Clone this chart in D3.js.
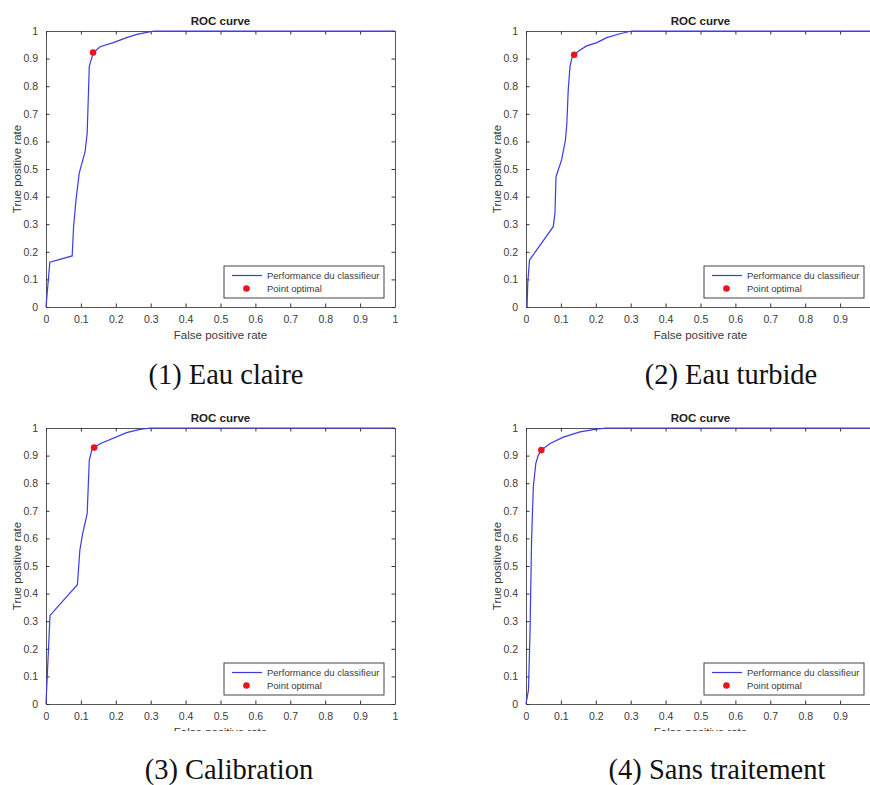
<!DOCTYPE html>
<html>
<head>
<meta charset="utf-8">
<script src="https://cdn.jsdelivr.net/npm/d3@7"></script>
<style>
  html, body { margin: 0; padding: 0; background: #fff; }
  svg { display: block; }
</style>
</head>
<body>
<svg id="chart" width="870" height="785"></svg>
<script>
// ---------------- DATA ----------------
const tickValues = [0, 0.1, 0.2, 0.3, 0.4, 0.5, 0.6, 0.7, 0.8, 0.9, 1];
const tickLabels = ["0", "0.1", "0.2", "0.3", "0.4", "0.5", "0.6", "0.7", "0.8", "0.9", "1"];

const chartTitle = "ROC curve";
const xLabel = "False positive rate";
const yLabel = "True positive rate";
const legendLabels = ["Performance du classifieur", "Point optimal"];
const captions = ["(1) Eau claire", "(2) Eau turbide", "(3) Calibration", "(4) Sans traitement"];

// (1) Eau claire
const fprClaire = [0, 0.011, 0.075, 0.079, 0.086, 0.095, 0.112, 0.118, 0.121, 0.124, 0.128, 0.136, 0.155, 0.193, 0.231, 0.260, 0.289, 0.310, 1];
const tprClaire = [0, 0.162, 0.185, 0.290, 0.388, 0.484, 0.563, 0.630, 0.750, 0.870, 0.890, 0.922, 0.943, 0.958, 0.976, 0.988, 0.995, 1, 1];
const optClaire = [0.135, 0.922];

// (2) Eau turbide
const fprTurbide = [0, 0.003, 0.005, 0.010, 0.078, 0.083, 0.086, 0.102, 0.113, 0.117, 0.121, 0.126, 0.131, 0.138, 0.155, 0.174, 0.203, 0.231, 0.269, 0.303, 1];
const tprTurbide = [0, 0, 0.086, 0.170, 0.291, 0.340, 0.472, 0.533, 0.605, 0.665, 0.786, 0.871, 0.900, 0.915, 0.931, 0.946, 0.958, 0.976, 0.990, 1, 1];
const optTurbide = [0.138, 0.914];

// (3) Calibration
const fprCalib = [0, 0.007, 0.0115, 0.090, 0.097, 0.105, 0.118, 0.124, 0.131, 0.138, 0.155, 0.231, 0.269, 0.300, 1];
const tprCalib = [0, 0.195, 0.321, 0.432, 0.557, 0.617, 0.690, 0.883, 0.919, 0.929, 0.943, 0.983, 0.995, 1, 1];
const optCalib = [0.138, 0.929];

// (4) Sans traitement
const fprSans = [0, 0.007, 0.0115, 0.013, 0.016, 0.021, 0.028, 0.035, 0.044, 0.069, 0.107, 0.155, 0.198, 0.230, 1];
const tprSans = [0, 0.050, 0.256, 0.376, 0.594, 0.787, 0.871, 0.901, 0.920, 0.944, 0.967, 0.986, 0.995, 1, 1];
const optSans = [0.044, 0.920];

// ---------------- DRAWING ----------------
const panels = [
  { fpr: fprClaire, tpr: tprClaire, opt: optClaire, caption: captions[0], left: 46, top: 31, clip: [0, 0, 440, 346], capX: 226, capY: 384 },
  { fpr: fprTurbide, tpr: tprTurbide, opt: optTurbide, caption: captions[1], left: 526, top: 31, clip: [440, 0, 440, 346], capX: 731, capY: 384 },
  { fpr: fprCalib, tpr: tprCalib, opt: optCalib, caption: captions[2], left: 46, top: 428, clip: [0, 395, 440, 336], capX: 229, capY: 779 },
  { fpr: fprSans, tpr: tprSans, opt: optSans, caption: captions[3], left: 526, top: 428, clip: [440, 395, 440, 336], capX: 717, capY: 779 }
];

const W = 349, H = 276;
const pageW = 870;
const svg = d3.select("#chart");
const sans = "'Liberation Sans', Arial, sans-serif";
const axisColor = "#555";
const textColor = "#3a3a3a";

const defs = svg.append("defs");

panels.forEach((p, i) => {
  defs.append("clipPath").attr("id", "clip" + i)
    .append("rect").attr("x", p.clip[0]).attr("y", p.clip[1]).attr("width", p.clip[2]).attr("height", p.clip[3]);

  const outer = svg.append("g").attr("clip-path", `url(#clip${i})`);
  const g = outer.append("g").attr("transform", `translate(${p.left},${p.top})`);

  const x = d3.scaleLinear().domain([0, 1]).range([0, W]);
  const y = d3.scaleLinear().domain([0, 1]).range([H, 0]);
  const fmt = d => tickLabels[tickValues.indexOf(d)];
  // ticks whose label would fall outside the page (panel cropped on the right) are not shown
  const xTicks = tickValues.filter(v => p.left + x(v) + 6 < pageW);

  // axes (ticks inward)
  const bottom = g.append("g").attr("transform", `translate(0,${H})`)
    .call(d3.axisBottom(x).tickValues(xTicks).tickFormat(fmt).tickSizeInner(-3.5).tickSizeOuter(0).tickPadding(9));
  const left = g.append("g")
    .call(d3.axisLeft(y).tickValues(tickValues).tickFormat(fmt).tickSizeInner(-3.5).tickSizeOuter(0).tickPadding(8));
  const top = g.append("g")
    .call(d3.axisTop(x).tickValues(xTicks).tickFormat("").tickSizeInner(-3.5).tickSizeOuter(0));
  const right = g.append("g").attr("transform", `translate(${W},0)`)
    .call(d3.axisRight(y).tickValues(tickValues).tickFormat("").tickSizeInner(-3.5).tickSizeOuter(0));

  [bottom, left, top, right].forEach(a => {
    a.selectAll(".domain").attr("stroke", axisColor).attr("stroke-width", 1);
    a.selectAll(".tick line").attr("stroke", "#333").attr("stroke-width", 1);
    a.selectAll("text").attr("fill", textColor).style("font-family", sans).style("font-size", "10.5px");
  });

  // curve
  const pts = p.fpr.map((v, k) => [v, p.tpr[k]]);
  g.append("path").datum(pts)
    .attr("fill", "none").attr("stroke", "#3a3ae6").attr("stroke-width", 1.2)
    .attr("d", d3.line().x(d => x(d[0])).y(d => y(d[1])));

  // optimal point
  g.append("circle").attr("cx", x(p.opt[0])).attr("cy", y(p.opt[1])).attr("r", 3.3).attr("fill", "#e8141c");

  // title
  g.append("text").attr("x", W / 2).attr("y", -6).attr("text-anchor", "middle")
    .style("font-family", sans).style("font-size", "11.5px").style("font-weight", "bold").attr("fill", "#222")
    .text(chartTitle);

  // axis labels
  g.append("text").attr("x", W / 2).attr("y", H + 32).attr("text-anchor", "middle")
    .style("font-family", sans).style("font-size", "11.5px").attr("fill", textColor).text(xLabel);
  g.append("text").attr("transform", `translate(-25,${H / 2}) rotate(-90)`).attr("text-anchor", "middle")
    .style("font-family", sans).style("font-size", "11.5px").attr("fill", textColor).text(yLabel);

  // legend
  const lg = g.append("g").attr("transform", `translate(${W - 171},${H - 41})`);
  lg.append("rect").attr("width", 160).attr("height", 32).attr("fill", "#fff").attr("stroke", "#444").attr("stroke-width", 1);
  lg.append("line").attr("x1", 8).attr("x2", 38).attr("y1", 9.5).attr("y2", 9.5).attr("stroke", "#3a3ae6").attr("stroke-width", 1.2);
  lg.append("circle").attr("cx", 22.5).attr("cy", 22.5).attr("r", 3.3).attr("fill", "#e8141c");
  lg.append("text").attr("x", 43).attr("y", 13).style("font-family", sans).style("font-size", "9.5px").attr("fill", textColor).text(legendLabels[0]);
  lg.append("text").attr("x", 43).attr("y", 26).style("font-family", sans).style("font-size", "9.5px").attr("fill", textColor).text(legendLabels[1]);

  // caption
  svg.append("text").attr("x", p.capX).attr("y", p.capY).attr("text-anchor", "middle")
    .style("font-family", "'Liberation Serif', 'Times New Roman', serif").style("font-size", "28.5px").attr("fill", "#111")
    .text(p.caption);
});
</script>
</body>
</html>
